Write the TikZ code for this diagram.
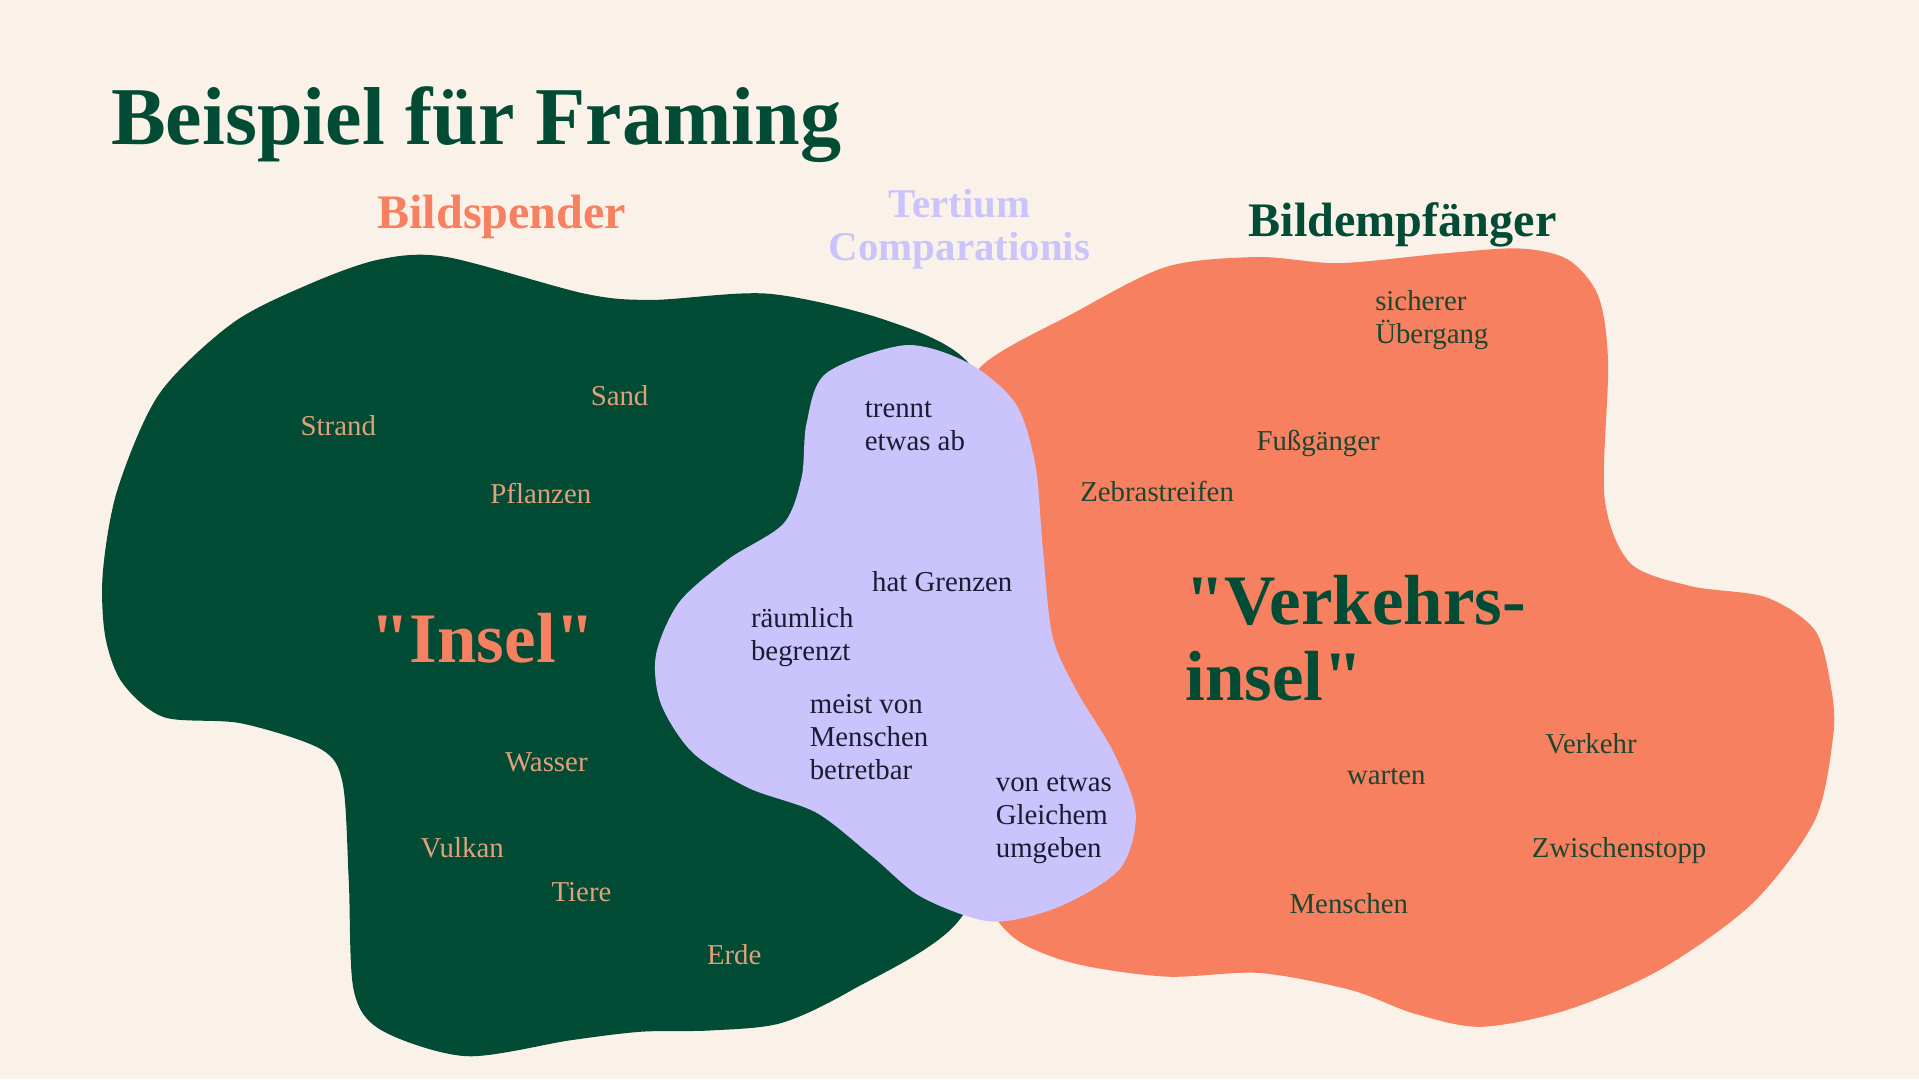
\documentclass[tikz,border=0pt]{standalone}
\usepackage{fontspec}
\setmainfont{Liberation Serif}
\definecolor{creme}{HTML}{FAF2E9}
\definecolor{waldgruen}{HTML}{024C35}
\definecolor{lachs}{HTML}{F6805F}
\definecolor{flieder}{HTML}{CAC3FC}
\definecolor{sandton}{HTML}{E2A07A}
\definecolor{tinte}{HTML}{1B1B33}
\definecolor{dunkelgruen}{HTML}{1E4530}

\begin{document}
\begin{tikzpicture}[x=0.1mm,y=-0.1mm, every node/.style={inner sep=0pt, anchor=base west},
    klein/.style={font=\fontsize{6.7}{7.7}\selectfont, align=left},
    kopf/.style={font=\fontsize{11.2}{12}\selectfont\bfseries, anchor=base},
    gross/.style={font=\fontsize{16.5}{17.6}\selectfont\bfseries, align=left}]
    \fill[creme] (0,0) rectangle (1568,882);

    % Bildspender
    \fill[waldgruen] plot[smooth cycle] coordinates {(365,210) (478,240) (534,245) (628,240) (722,261) (790,295)
        (835,380) (845,520) (830,650) (782,754) (696,809) (638,836) (580,842) (524,843) (466,850) (381,863)
        (312,842) (289,809) (285,720) (280,640) (262,612) (197,591) (134,586) (100,558) (86,520) (84,468)
        (96,400) (130,322) (190,264) (253,232) (310,212)};
    % Bildempfaenger
    \fill[lachs] plot[smooth cycle] coordinates {(801,300) (877,256) (953,218) (1028,210) (1094,215) (1180,207)
        (1241,203) (1281,212) (1306,242) (1314,297) (1311,406) (1332,460) (1382,479) (1443,488) (1483,515)
        (1496,561) (1498,600) (1483,670) (1432,738) (1357,792) (1281,825) (1210,839) (1155,828) (1104,809)
        (1029,795) (953,798) (877,787) (827,765) (800,720) (780,600) (770,470) (775,360)};
    % Tertium Comparationis
    \fill[flieder] plot[smooth cycle] coordinates {(740,282) (792,297) (830,330) (846,380) (852,447) (860,520)
        (880,565) (910,615) (928,665) (915,710) (865,741) (810,753) (753,733) (713,700) (667,664) (612,644)
        (566,615) (540,575) (536,535) (555,492) (595,457) (640,428) (655,390) (659,346) (675,305)};

    \node[font=\fontsize{19.1}{21}\selectfont\bfseries, text=waldgruen] (titel) at (90,118) {Beispiel für Framing};
    \node[kopf, text=lachs] (spender) at (410,187) {Bildspender};
    \node[kopf, text=flieder, font=\fontsize{9.5}{10}\selectfont\bfseries, align=center] (tertium) at (784,213) {Tertium\\Comparationis};
    \node[kopf, text=waldgruen] (empfaenger) at (1146,193) {Bildempfänger};

    \node[gross, text=lachs] (insel) at (302,541) {\textquotedbl Insel\textquotedbl};
    \node[gross, text=waldgruen] (verkehrsinsel) at (968,572) {\textquotedbl Verkehrs-\\insel\textquotedbl};

    \node[klein, text=sandton] (sand) at (482,331) {Sand};
    \node[klein, text=sandton] (strand) at (245,356) {Strand};
    \node[klein, text=sandton] (pflanzen) at (400,411) {Pflanzen};
    \node[klein, text=sandton] (wasser) at (412,630) {Wasser};
    \node[klein, text=sandton] (vulkan) at (343,701) {Vulkan};
    \node[klein, text=sandton] (tiere) at (450,737) {Tiere};
    \node[klein, text=sandton] (erde) at (577,788) {Erde};

    \node[klein, text=tinte] (trennt) at (706,368) {trennt\\etwas ab};
    \node[klein, text=tinte] (grenzen) at (712,483) {hat Grenzen};
    \node[klein, text=tinte] (raeumlich) at (613,540) {räumlich\\begrenzt};
    \node[klein, text=tinte] (betretbar) at (661,637) {meist von\\Menschen\\betretbar};
    \node[klein, text=tinte] (umgeben) at (813,701) {von etwas\\Gleichem\\umgeben};

    \node[klein, text=dunkelgruen] (uebergang) at (1123,281) {sicherer\\Übergang};
    \node[klein, text=dunkelgruen] (fussgaenger) at (1026,368) {Fußgänger};
    \node[klein, text=dunkelgruen] (zebra) at (882,410) {Zebrastreifen};
    \node[klein, text=dunkelgruen] (verkehr) at (1262,616) {Verkehr};
    \node[klein, text=dunkelgruen] (warten) at (1100,641) {warten};
    \node[klein, text=dunkelgruen] (zwischenstopp) at (1251,701) {Zwischenstopp};
    \node[klein, text=dunkelgruen] (menschen) at (1053,746) {Menschen};
\end{tikzpicture}
\end{document}
